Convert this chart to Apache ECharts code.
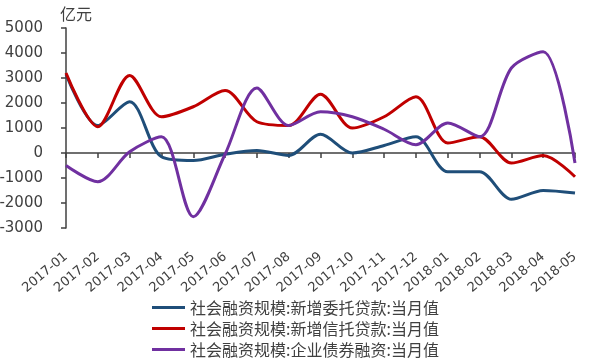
<!DOCTYPE html>
<html>
<head>
<meta charset="utf-8">
<script src="https://cdn.jsdelivr.net/npm/echarts@6/dist/echarts.min.js"></script>
<style>html,body{margin:0;padding:0;background:#fff}#c{width:600px;height:360px}</style>
</head>
<body>
<div id="c"></div>
<script>
var months = ['2017-01','2017-02','2017-03','2017-04','2017-05','2017-06','2017-07','2017-08','2017-09','2017-10','2017-11','2017-12','2018-01','2018-02','2018-03','2018-04','2018-05'];
var entrustedLoans = [3150, 1100, 2050, -150, -300, -50, 100, -100, 750, 0, 300, 650, -750, -750, -1850, -1500, -1600];
var trustLoans = [3200, 1050, 3100, 1450, 1850, 2500, 1250, 1100, 2350, 1000, 1450, 2250, 400, 650, -400, -100, -950];
var corporateBonds = [-500, -1150, 50, 650, -2550, -50, 2600, 1100, 1650, 1450, 950, 330, 1200, 650, 3400, 4050, -400];
var seriesNames = ['社会融资规模:新增委托贷款:当月值','社会融资规模:新增信托贷款:当月值','社会融资规模:企业债券融资:当月值'];
var unitLabel = '亿元';

var chart = echarts.init(document.getElementById('c'), null, {renderer:'canvas'});
var txt = '#404040';
function mk(name, data, color){
  return {name:name, type:'line', data:data, smooth:0.3, showSymbol:false, symbol:'none',
    lineStyle:{width:3, color:color}, itemStyle:{color:color}, xAxisIndex:0, yAxisIndex:0};
}
chart.setOption({
  animation:false,
  backgroundColor:'#fff',
  grid:{left:66, right:25, top:28, bottom:132, containLabel:false, outerBoundsMode:'none'},
  graphic:[{type:'text', left:60, top:6, style:{text:unitLabel, font:'16px "Noto Sans CJK SC"', fill:txt}}],
  legend:{orient:'vertical', left:152, top:299, padding:0, icon:'rect', itemWidth:33, itemHeight:3, itemGap:4,
    textStyle:{fontFamily:'Noto Sans CJK SC', fontSize:16, lineHeight:17, color:txt},
    data:seriesNames},
  xAxis:[
    {type:'category', data:months, boundaryGap:false, position:'bottom',
     axisLine:{show:false, onZero:false}, axisTick:{show:false},
     axisLabel:{rotate:40, margin:27, interval:0, fontFamily:'DejaVu Sans', fontSize:13, color:txt}},
    {type:'category', data:months, boundaryGap:false, position:'bottom',
     axisLine:{show:true, onZero:true, lineStyle:{color:txt, width:1.5}},
     axisTick:{show:true, length:5, interval:0, lineStyle:{color:txt, width:1.5}},
     axisLabel:{show:false}}
  ],
  yAxis:{type:'value', min:-3000, max:5000, interval:1000,
    splitLine:{show:false},
    axisLine:{show:true, lineStyle:{color:txt, width:1.5}},
    axisTick:{show:true, length:5, lineStyle:{color:txt, width:1.5}},
    axisLabel:{margin:23, fontFamily:'DejaVu Sans', fontSize:15, color:txt, formatter:function(v){return String(v);}}},
  series:[
    mk(seriesNames[0], entrustedLoans, '#1F4E79'),
    mk(seriesNames[1], trustLoans, '#C00000'),
    mk(seriesNames[2], corporateBonds, '#7030A0')
  ]
});
</script>
</body>
</html>
